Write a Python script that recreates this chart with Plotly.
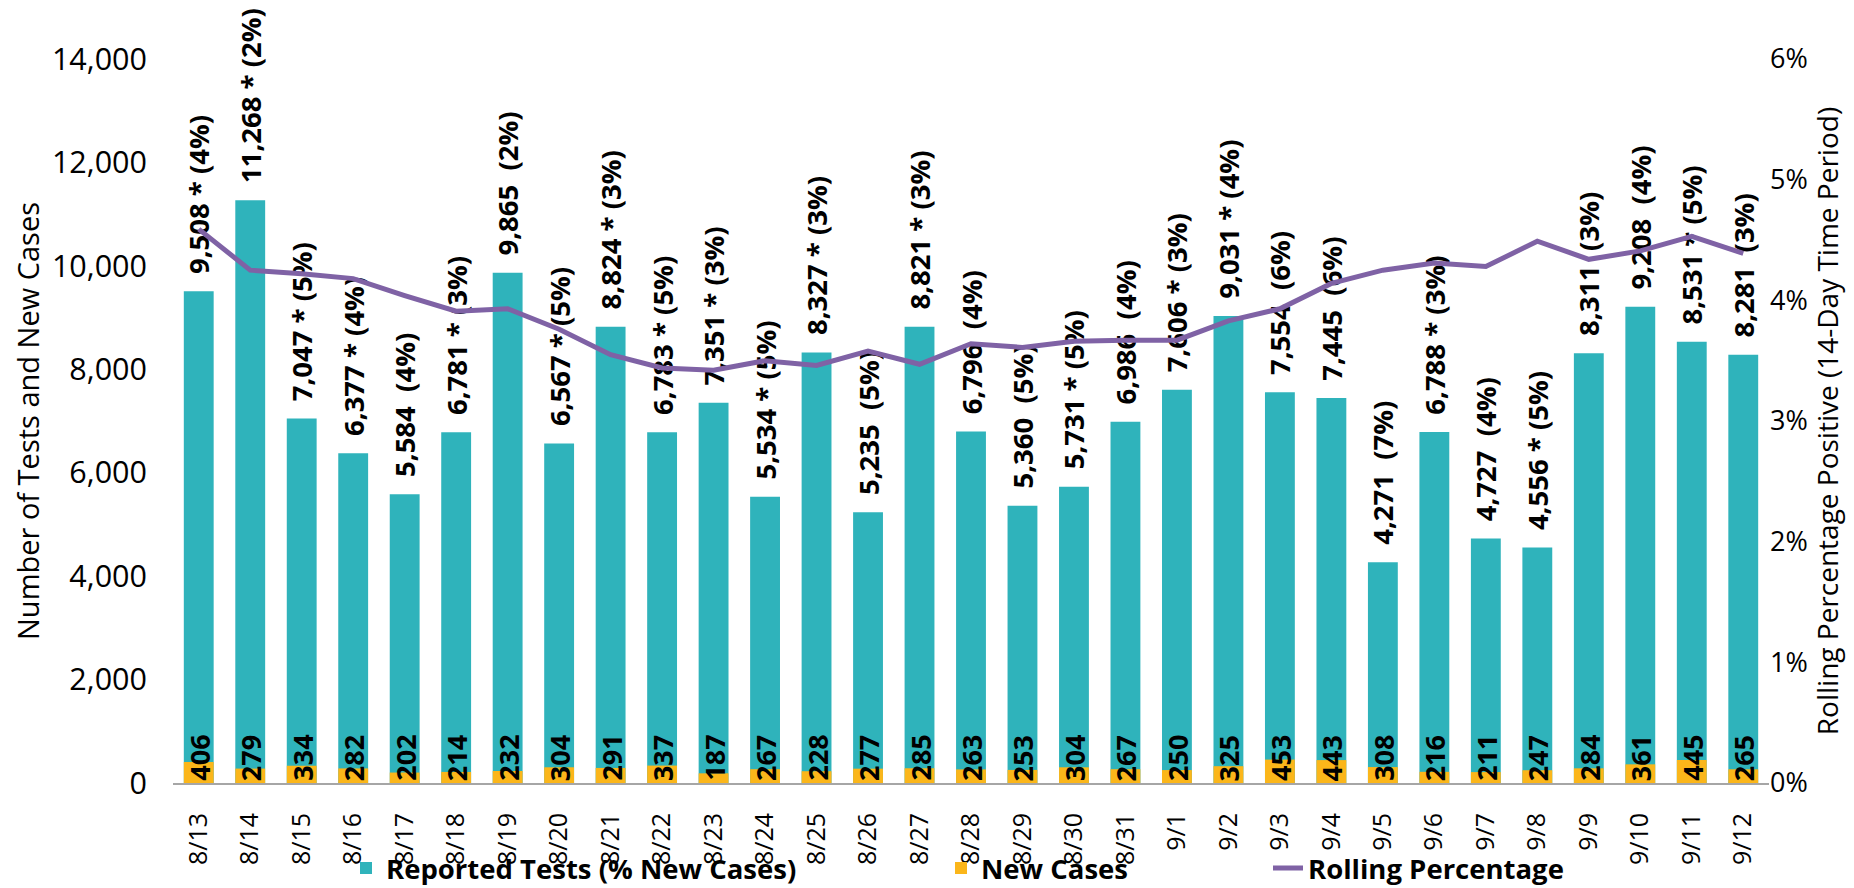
import plotly.graph_objects as go

dates = ["8/13", "8/14", "8/15", "8/16", "8/17", "8/18", "8/19", "8/20", "8/21", "8/22",
         "8/23", "8/24", "8/25", "8/26", "8/27", "8/28", "8/29", "8/30", "8/31", "9/1",
         "9/2", "9/3", "9/4", "9/5", "9/6", "9/7", "9/8", "9/9", "9/10", "9/11", "9/12"]
reported_tests = [9508, 11268, 7047, 6377, 5584, 6781, 9865, 6567, 8824, 6783,
                  7351, 5534, 8327, 5235, 8821, 6796, 5360, 5731, 6986, 7606,
                  9031, 7554, 7445, 4271, 6788, 4727, 4556, 8311, 9208, 8531, 8281]
starred = [True, True, True, True, False, True, False, True, True, True,
           True, True, True, False, True, False, False, True, False, True,
           True, False, False, False, True, False, True, False, False, True, False]
pct_new_cases = [4, 2, 5, 4, 4, 3, 2, 5, 3, 5,
                 3, 5, 3, 5, 3, 4, 5, 5, 4, 3,
                 4, 6, 6, 7, 3, 4, 5, 3, 4, 5, 3]
new_cases = [406, 279, 334, 282, 202, 214, 232, 304, 291, 337,
             187, 267, 228, 277, 285, 263, 253, 304, 267, 250,
             325, 453, 443, 308, 216, 211, 247, 284, 361, 445, 265]
rolling_pct = [4.59, 4.25, 4.22, 4.18, 4.04, 3.91, 3.93, 3.76, 3.55, 3.44,
               3.42, 3.50, 3.46, 3.58, 3.47, 3.64, 3.61, 3.66, 3.67, 3.67,
               3.83, 3.93, 4.14, 4.25, 4.31, 4.28, 4.49, 4.34, 4.41, 4.53, 4.39]

TEAL = "#2FB3BB"
GOLD = "#FBB61A"
PURPLE = "#7F62A5"
NB = "\u00a0"

test_labels = [
    (f"{NB}{NB}{t:,}{NB}*{NB}({p}%)" if s else f"{NB}{NB}{t:,}{NB}{NB}({p}%)")
    for t, s, p in zip(reported_tests, starred, pct_new_cases)
]
case_labels = [f"{c}" for c in new_cases]

W, H = 1854, 888
ML, MR, MT, MB = 165, 93, 51, 113
PW = W - ML - MR
PH = H - MT - MB

def px(xpix):
    return (xpix - ML) / PW

label_font = dict(family="Open Sans", size=27.5, color="#000000", weight="bold")
case_font = dict(family="Open Sans", size=27, color="#000000", weight="bold")

fig = go.Figure()

fig.add_trace(go.Bar(
    x=dates, y=reported_tests, name="Reported Tests (% New Cases)",
    marker=dict(color=TEAL, line=dict(width=0)), width=0.58,
    text=test_labels, textposition="outside", textangle=-90,
    constraintext="none", cliponaxis=False,
    outsidetextfont=label_font, textfont=label_font,
    legend="legend", hoverinfo="skip",
))

fig.add_trace(go.Bar(
    x=dates, y=new_cases, name="New Cases",
    marker=dict(color=GOLD, line=dict(width=0)), width=0.58,
    legend="legend2", hoverinfo="skip",
))

fig.add_trace(go.Scatter(
    x=dates, y=[v / 100 for v in rolling_pct], name="Rolling Percentage",
    mode="lines", line=dict(color=PURPLE, width=5), yaxis="y2",
    legend="legend3", hoverinfo="skip",
))

for d, c in zip(dates, case_labels):
    fig.add_annotation(
        x=d, y=0, xref="x", yref="y", text=c, textangle=-90,
        showarrow=False, xanchor="center", yanchor="bottom",
        font=case_font,
    )

legend_font = dict(family="Open Sans", size=27.5, color="#000000", weight="bold")
leg_y = -85 / PH
common_leg = dict(orientation="h", yanchor="middle", y=leg_y, xanchor="left",
                  font=legend_font, bgcolor="rgba(0,0,0,0)", itemclick=False)

fig.update_layout(
    width=W, height=H,
    margin=dict(l=ML, r=MR, t=MT, b=MB, autoexpand=False),
    paper_bgcolor="white", plot_bgcolor="white",
    barmode="overlay",
    showlegend=True,
    font=dict(family="Open Sans", color="#000000"),
    legend=dict(x=px(338), **common_leg),
    legend2=dict(x=px(933), **common_leg),
    legend3=dict(x=px(1260), **common_leg),
    xaxis=dict(
        type="category", tickangle=-90, showgrid=False, ticks="",
        showline=True, linecolor="#A6A6A6", linewidth=2,
        tickfont=dict(family="Open Sans", size=25, color="#000000"),
        ticklabelstandoff=18,
    ),
    yaxis=dict(
        range=[0, 14000], dtick=2000, tickformat=",d", showgrid=False,
        showline=False, zeroline=False, ticks="",
        tickfont=dict(family="Open Sans", size=30.5, color="#000000"),
        ticklabelstandoff=25,
        title=dict(text="Number of Tests and New Cases",
                   font=dict(family="Open Sans", size=29, color="#000000"),
                   standoff=7),
    ),
    yaxis2=dict(
        range=[0, 0.06], dtick=0.01, tickformat=".0%", overlaying="y",
        side="right", showgrid=False, showline=False, zeroline=False, ticks="",
        tickfont=dict(family="Open Sans", size=27, color="#000000"),
        ticklabelstandoff=0,
        title=dict(text="Rolling Percentage Positive (14-Day Time Period)",
                   font=dict(family="Open Sans", size=28, color="#000000"),
                   standoff=3),
    ),
)

fig.write_html("out.html")
